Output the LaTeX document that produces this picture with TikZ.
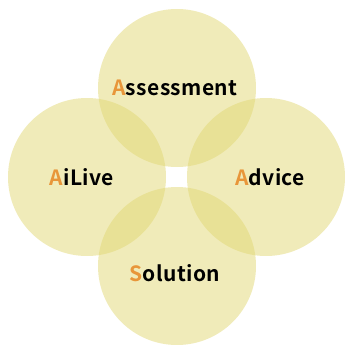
\documentclass[tikz,border=0pt]{standalone}
\usepackage{fontspec}
\newfontfamily\lblfont{Noto Sans CJK JP}[BoldFont={* Bold},LetterSpace=2]
\definecolor{circ}{RGB}{225,215,115}
\definecolor{first}{RGB}{232,150,58}
\begin{document}
\begin{tikzpicture}[x=1pt,y=-1pt,
  petal/.style={circle,fill=circ,fill opacity=0.5,minimum size=158pt,inner sep=0pt},
  lbl/.style={font=\lblfont\bfseries\fontsize{21}{25}\selectfont,text=black}]
\useasboundingbox (0,0) rectangle (345,345);
\node[petal] (top) at (177,88) {};
\node[petal] (left) at (87,177) {};
\node[petal] (right) at (266,177) {};
\node[petal] (bottom) at (177,266) {};
\node[lbl] (t1) at (175,88) {\textcolor{first}{A}ssessment};
\node[lbl] (t2) at (82,177) {\textcolor{first}{A}iLive};
\node[lbl] (t3) at (270,177) {\textcolor{first}{A}dvice};
\node[lbl] (t4) at (175,273) {\textcolor{first}{S}olution};
\end{tikzpicture}
\end{document}
